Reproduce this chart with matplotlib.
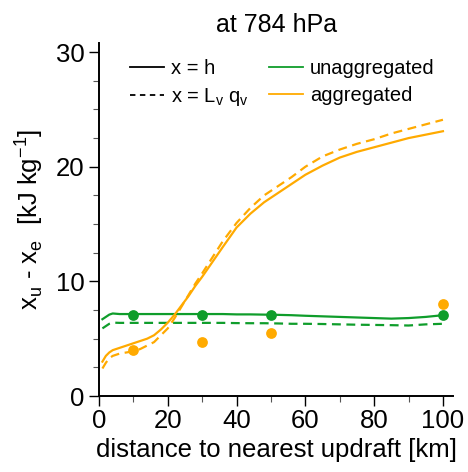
import matplotlib
matplotlib.use("Agg")
import matplotlib.pyplot as plt
from matplotlib.lines import Line2D
from matplotlib.ticker import MultipleLocator

plt.rcParams['font.family'] = ['Liberation Sans', 'DejaVu Sans']

dist = [1, 2, 3, 4, 6, 8, 10, 12, 14, 16, 18, 20, 22, 24, 26, 28, 30, 33, 36, 40,
        44, 48, 52, 56, 60, 65, 70, 75, 80, 85, 90, 95, 100]

agg_h = [3.0, 3.5, 3.8, 4.0, 4.2, 4.4, 4.6, 4.8, 5.0, 5.3, 5.8, 6.4, 7.1, 7.9, 8.7, 9.6,
         10.4, 11.7, 13.0, 14.7, 15.9, 16.9, 17.7, 18.5, 19.3, 20.1, 20.8, 21.3, 21.7,
         22.1, 22.5, 22.8, 23.1]
agg_q = [2.4, 2.9, 3.3, 3.5, 3.7, 3.8, 3.9, 4.1, 4.4, 4.7, 5.3, 5.9, 6.8, 7.8, 8.8, 9.8,
         10.7, 12.1, 13.5, 15.1, 16.4, 17.5, 18.3, 19.1, 20.0, 20.9, 21.5, 22.0, 22.4,
         22.9, 23.3, 23.7, 24.1]
unagg_h = [6.7, 6.9, 7.1, 7.2, 7.15, 7.15, 7.15, 7.15, 7.15, 7.15, 7.15, 7.15, 7.15, 7.15,
           7.15, 7.15, 7.15, 7.15, 7.15, 7.12, 7.12, 7.1, 7.08, 7.05, 7.0, 6.95, 6.9, 6.85,
           6.8, 6.75, 6.8, 6.9, 7.05]
unagg_q = [5.9, 6.1, 6.3, 6.4, 6.38, 6.38, 6.38, 6.38, 6.38, 6.38, 6.38, 6.38, 6.38, 6.38,
           6.38, 6.38, 6.38, 6.38, 6.38, 6.36, 6.35, 6.35, 6.33, 6.3, 6.3, 6.28, 6.25, 6.22,
           6.2, 6.18, 6.15, 6.25, 6.3]

pt_x = [10, 30, 50, 100]
pt_unagg = [7.1, 7.1, 7.1, 7.1]
pt_agg = [4.0, 4.75, 5.5, 8.05]

green = '#0f9d2b'
orange = '#ffaa00'

fig = plt.figure(figsize=(4.68, 4.72), dpi=100)
ax = fig.add_axes([0.2115, 0.161, 0.757, 0.748])

lw = 1.6
ax.plot(dist, unagg_h, color=green, lw=lw, zorder=2)
ax.plot(dist, unagg_q, color=green, lw=lw, dashes=(4, 2.5), zorder=2)
ax.plot(dist, agg_h, color=orange, lw=lw, zorder=2)
ax.plot(dist, agg_q, color=orange, lw=lw, dashes=(4, 2.5), zorder=2)
ax.scatter(pt_x, pt_agg, s=60, color=orange, zorder=3, linewidths=0)
ax.scatter(pt_x, pt_unagg, s=60, color=green, zorder=3, linewidths=0)

ax.set_xlim(0, 103)
ax.set_ylim(0, 30.8)
ax.xaxis.set_major_locator(MultipleLocator(20))
ax.xaxis.set_minor_locator(MultipleLocator(10))
ax.yaxis.set_major_locator(MultipleLocator(10))
ax.yaxis.set_minor_locator(MultipleLocator(2.5))
for s in ['top', 'right']:
    ax.spines[s].set_visible(False)
for s in ['left', 'bottom']:
    ax.spines[s].set_linewidth(1.4)
ax.tick_params(which='major', direction='out', length=7.5, width=1, labelsize=18.5)
ax.tick_params(axis='x', which='major', pad=1.5)
ax.tick_params(axis='y', which='major', pad=3)
ax.tick_params(which='minor', direction='out', length=4, width=0.8, color='#555555')

ax.set_xlabel('distance to nearest updraft [km]', fontsize=18.5, labelpad=4)
ax.set_ylabel(r'x$_\mathregular{u}$ - x$_\mathregular{e}$  [kJ kg$^\mathregular{-1}$]',
              fontsize=18.5, labelpad=8)
ax.set_title('at 784 hPa', fontsize=18, pad=8)

handles = [Line2D([], [], color='black', lw=1.3),
           Line2D([], [], color='black', lw=1.3, dashes=(3, 2.5)),
           Line2D([], [], color=green, lw=1.3),
           Line2D([], [], color=orange, lw=1.3)]
labels = ['x = h', r'x = L$_\mathregular{v}$ q$_\mathregular{v}$', 'unaggregated', 'aggregated']
ax.legend(handles, labels, ncol=2, frameon=False, fontsize=14.5, loc='upper left',
          bbox_to_anchor=(0.035, 1.005), handlelength=1.7, handletextpad=0.35,
          columnspacing=1.0, labelspacing=0.4)

fig.savefig('out.png', dpi=100)
